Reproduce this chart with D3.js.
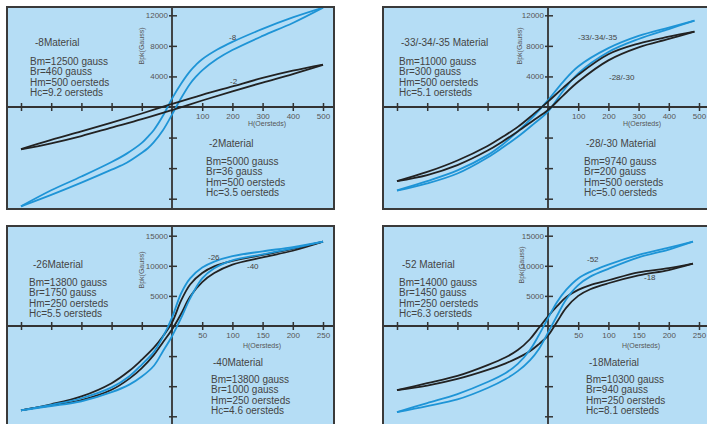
<!DOCTYPE html>
<html><head><meta charset="utf-8">
<script src="https://cdn.jsdelivr.net/npm/d3@7"></script>
<style>body{margin:0;background:#fff;}svg{display:block;font-family:"Liberation Sans",Arial,sans-serif;}</style>
</head><body>
<svg id="c" width="707" height="424"></svg>
<script>
// ---------- DATA ----------
// Panel 1 (Hm = 500 Oe)
const p1H = [-500,-400,-300,-200,-150,-100,-80,-60,-30,0,30,60,80,100,150,200,300,400,500];
const m8Upper = [-13000,-10900,-9100,-7200,-6100,-4700,-3900,-3000,-1150,1100,3050,4700,5550,6250,7520,8520,10220,11720,13000];
const m8Lower = [-13000,-11500,-9900,-8200,-7300,-6000,-5400,-4600,-3050,-1000,1150,3050,4000,4800,6300,7450,9300,11000,13000];
const p1H2 = [-500,-400,-300,-200,-100,0,100,200,300,400,500];
const m2Upper = [-5500,-4300,-3200,-2050,-850,400,1600,2700,3800,4750,5550];
const m2Lower = [-5550,-4750,-3800,-2700,-1600,-400,850,2050,3200,4300,5500];
// Panel 2
const p2H = [-500,-400,-300,-200,-150,-100,-50,0,50,100,200,300,400,485];
const m33Upper = [-10900,-9700,-8300,-6300,-4900,-3200,-1300,900,3300,5300,7700,9300,10400,11300];
const m33Lower = [-10950,-10000,-8700,-6600,-5300,-3900,-2300,-600,2100,4400,7200,8900,10200,11300];
const m28Upper = [-9700,-8500,-7000,-5100,-3900,-2600,-1000,700,2500,4200,6900,8300,9200,9860];
const m28Lower = [-9700,-8900,-7600,-5700,-4500,-3200,-1800,-400,1500,3300,6100,7800,8900,9860];
// Panel 3 (Hm = 250 Oe)
const p3H = [-250,-200,-150,-100,-70,-50,-30,-15,0,15,30,50,70,100,150,200,250];
const m26Upper = [-14000,-13100,-12000,-10200,-8300,-6400,-4300,-1800,1400,5400,7900,9700,10700,11600,12400,13100,14000];
const m26Lower = [-14000,-13300,-12500,-11000,-9700,-8400,-6600,-4200,-1700,1300,4600,7900,9600,10900,11900,12900,14000];
const m40Upper = [-14000,-13000,-11700,-9500,-7400,-5600,-3600,-1700,550,4200,6900,8800,9900,10800,11800,12800,14000];
const m40Lower = [-14000,-13200,-12300,-10600,-8700,-7000,-4800,-2700,-580,2000,4900,7300,8800,10200,11400,12500,14000];
// Panel 4
const p4H = [-250,-200,-150,-100,-70,-50,-30,-15,0,15,30,50,70,100,150,200,240];
const m52Upper = [-14300,-12800,-11300,-9300,-7800,-6300,-4000,-1500,1300,4000,6000,7900,9000,10200,11800,13000,14000];
const m52Lower = [-14300,-13300,-12200,-10300,-8800,-7500,-5700,-3800,-1100,1700,4400,6800,8200,9500,11400,12700,14000];
const m18Upper = [-10650,-9500,-8300,-6500,-5200,-4000,-2200,-300,1600,3300,4800,6000,6800,7600,8900,9600,10350];
const m18Lower = [-10650,-9900,-8800,-7300,-6200,-5300,-4200,-3000,-1600,700,3000,5000,6100,7100,8400,9300,10350];

// tick values
const xTicksA = [-500,-400,-300,-200,-100,100,200,300,400,500];
const yTicksA = [-12000,-8000,-4000,4000,8000,12000];
const xTicksB = [-250,-200,-150,-100,-50,50,100,150,200,250];
const yTicksB = [-15000,-10000,-5000,5000,10000,15000];

// text
const texts1 = {t1:"-8Material", b1:["Bm=12500 gauss","Br=460 gauss","Hm=500 oersteds","Hc=9.2 oersteds"],
  t2:"-2Material", b2:["Bm=5000 gauss","Br=36 gauss","Hm=500 oersteds","Hc=3.5 oersteds"], c1:"-8", c2:"-2"};
const texts2 = {t1:"-33/-34/-35 Material", b1:["Bm=11000 gauss","Br=300 gauss","Hm=500 oersteds","Hc=5.1 oersteds"],
  t2:"-28/-30 Material", b2:["Bm=9740 gauss","Br=200 gauss","Hm=500 oersteds","Hc=5.0 oersteds"], c1:"-33/-34/-35", c2:"-28/-30"};
const texts3 = {t1:"-26Material", b1:["Bm=13800 gauss","Br=1750 gauss","Hm=250 oersteds","Hc=5.5 oersteds"],
  t2:"-40Material", b2:["Bm=13800 gauss","Br=1000 gauss","Hm=250 oersteds","Hc=4.6 oersteds"], c1:"-26", c2:"-40"};
const texts4 = {t1:"-52 Material", b1:["Bm=14000 gauss","Br=1450 gauss","Hm=250 oersteds","Hc=6.3 oersteds"],
  t2:"-18Material", b2:["Bm=10300 gauss","Br=940 gauss","Hm=250 oersteds","Hc=8.1 oersteds"], c1:"-52", c2:"-18"};

// ---------- DRAW ----------
const BLUE = "#1e94d6", BLACK = "#222", FILL = "#b5ddf5", AX = "#333", TXT = "#444";
const svg = d3.select("#c");

const panels = [
  {left:7, top:7, xMax:500, yMax:12000, yPx:91.7, xT:xTicksA, yT:yTicksA, T:texts1, ttl:[142,46], hx:95, hy:18.5,
   series:[[p1H,m8Upper,BLUE],[p1H,m8Lower,BLUE],[p1H2,m2Upper,BLACK],[p1H2,m2Lower,BLACK]],
   pos:{t1:[35,46], b1:[30,65], t2:[209,147], b2:[206,165], c1:[229,40], c2:[230,84]}},
  {left:383, top:7, xMax:500, yMax:12000, yPx:91.7, xT:xTicksA, yT:yTicksA, T:texts2, ttl:[520,46], hx:94, hy:18.5,
   series:[[p2H,m33Upper,BLUE],[p2H,m33Lower,BLUE],[p2H,m28Upper,BLACK],[p2H,m28Lower,BLACK]],
   pos:{t1:[401,46], b1:[399,65], t2:[586,147], b2:[584,165], c1:[578,40], c2:[609,80]}},
  {left:7, top:226, xMax:250, yMax:15000, yPx:90.3, xT:xTicksB, yT:yTicksB, T:texts3, ttl:[142,270], hx:90, hy:21.5,
   series:[[p3H,m40Upper,BLACK],[p3H,m40Lower,BLACK],[p3H,m26Upper,BLUE],[p3H,m26Lower,BLUE]],
   pos:{t1:[33,268], b1:[29,286], t2:[213,366], b2:[211,383], c1:[208,260], c2:[247,269]}},
  {left:383, top:226, xMax:250, yMax:15000, yPx:90.3, xT:xTicksB, yT:yTicksB, T:texts4, ttl:[522,265], hx:93, hy:21.5,
   series:[[p4H,m18Upper,BLACK],[p4H,m18Lower,BLACK],[p4H,m52Upper,BLUE],[p4H,m52Lower,BLUE]],
   pos:{t1:[402,268], b1:[399,286], t2:[589,366], b2:[586,383], c1:[587,262], c2:[644,280]}}
];

panels.forEach(p => {
  const W = 327, Hh = 202;
  const g = svg.append("g");
  const cid = "clip" + p.left + "_" + p.top;
  svg.append("clipPath").attr("id", cid).append("rect").attr("x", p.left).attr("y", p.top).attr("width", W).attr("height", Hh);
  g.append("rect").attr("x", p.left).attr("y", p.top).attr("width", W).attr("height", Hh).attr("fill", FILL);

  const x0 = p.left + 165, y0 = p.top + 100;
  const x = d3.scaleLinear().domain([-p.xMax, p.xMax]).range([x0 - 151, x0 + 151]);
  const y = d3.scaleLinear().domain([-p.yMax, p.yMax]).range([y0 + p.yPx, y0 - p.yPx]);

  const cg = g.append("g").attr("clip-path", `url(#${cid})`);
  cg.append("line").attr("x1", p.left).attr("x2", p.left + W).attr("y1", y0).attr("y2", y0).attr("stroke", AX).attr("stroke-width", 1.8);
  cg.append("line").attr("x1", x0).attr("x2", x0).attr("y1", p.top).attr("y2", p.top + Hh).attr("stroke", AX).attr("stroke-width", 1.8);

  const xa = d3.axisBottom(x).tickValues(p.xT).tickSize(0).tickFormat(d => d > 0 ? d : "");
  const xg = cg.append("g").attr("transform", `translate(0,${y0})`).call(xa);
  xg.select(".domain").remove();
  xg.selectAll(".tick").append("line").attr("y1", -4).attr("y2", 4).attr("stroke", AX).attr("stroke-width", 1.5);
  xg.selectAll(".tick text").attr("y", 6).attr("dy", "0.71em").attr("font-size", 8).attr("fill", "#555")
    .attr("font-family", "Liberation Sans, Arial, sans-serif");

  const ya = d3.axisLeft(y).tickValues(p.yT).tickSize(0).tickFormat(d => d > 0 ? d : "");
  const yg = cg.append("g").attr("transform", `translate(${x0},0)`).call(ya);
  yg.select(".domain").remove();
  yg.selectAll(".tick").append("line").attr("x1", -3).attr("x2", 5).attr("stroke", AX).attr("stroke-width", 1.5);
  yg.selectAll(".tick text").attr("x", -4).attr("font-size", 8).attr("fill", "#555")
    .attr("font-family", "Liberation Sans, Arial, sans-serif");

  const line = d3.line().x(d => x(d[0])).y(d => y(d[1])).curve(d3.curveCatmullRom.alpha(0.5));
  p.series.forEach(([hs, bs, col]) => {
    cg.append("path").datum(hs.map((h, i) => [h, bs[i]])).attr("d", line)
      .attr("fill", "none").attr("stroke", col).attr("stroke-width", 1.8);
  });

  g.append("text").attr("x", x0 + p.hx).attr("y", y0 + p.hy).attr("text-anchor", "middle")
    .attr("font-size", 7).attr("fill", "#555").text("H(Oersteds)");
  g.append("text").attr("transform", `translate(${p.ttl[0]},${p.ttl[1]}) rotate(-90)`).attr("text-anchor", "middle")
    .attr("dy", "0.35em").attr("font-size", 7).attr("fill", "#555").text("Bpk(Gauss)");

  const T = p.T, P = p.pos;
  g.append("text").attr("x", P.t1[0]).attr("y", P.t1[1]).attr("font-size", 10).attr("fill", TXT).text(T.t1);
  g.append("text").attr("x", P.t2[0]).attr("y", P.t2[1]).attr("font-size", 10).attr("fill", TXT).text(T.t2);
  T.b1.forEach((s, i) => g.append("text").attr("x", P.b1[0]).attr("y", P.b1[1] + i * 10.4).attr("font-size", 10).attr("fill", TXT).text(s));
  T.b2.forEach((s, i) => g.append("text").attr("x", P.b2[0]).attr("y", P.b2[1] + i * 10.4).attr("font-size", 10).attr("fill", TXT).text(s));
  g.append("text").attr("x", P.c1[0]).attr("y", P.c1[1]).attr("font-size", 8).attr("fill", TXT).text(T.c1);
  g.append("text").attr("x", P.c2[0]).attr("y", P.c2[1]).attr("font-size", 8).attr("fill", TXT).text(T.c2);

  g.append("rect").attr("x", p.left).attr("y", p.top).attr("width", W).attr("height", Hh)
    .attr("fill", "none").attr("stroke", "#3a3a3a").attr("stroke-width", 2);
});
</script>
</body></html>
